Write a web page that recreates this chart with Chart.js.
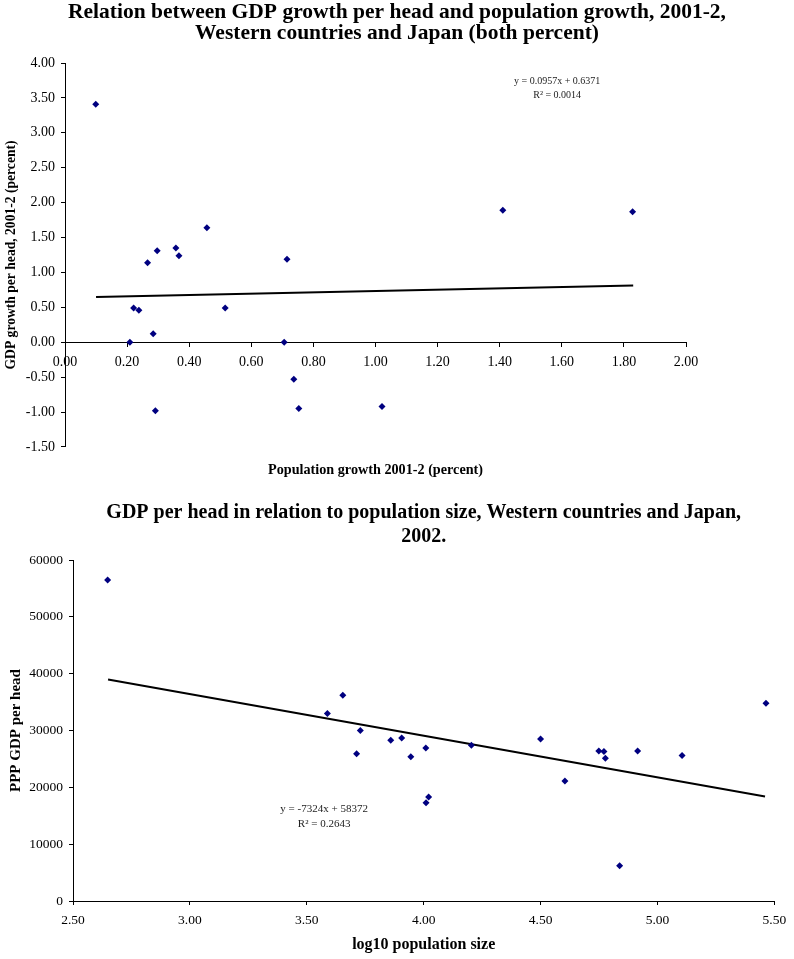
<!DOCTYPE html>
<html>
<head>
<meta charset="utf-8">
<script src="https://cdn.jsdelivr.net/npm/chart.js@4.4.1/dist/chart.umd.min.js"></script>
<style>
  html, body { margin: 0; padding: 0; background: #fff; }
  body { width: 794px; height: 959px; position: relative; overflow: hidden; }
  canvas { position: absolute; left: 0; }
  #growthChart { top: 0; }
  #sizeChart { top: 480px; }
</style>
</head>
<body>
<canvas id="growthChart" width="794" height="480"></canvas>
<canvas id="sizeChart" width="794" height="479"></canvas>
<script>
// chart 1: population growth vs GDP growth per head, 2001-2 (percent)
const popGrowth = [0.099, 0.209, 0.221, 0.238, 0.266, 0.284, 0.291, 0.297, 0.357, 0.367,
  0.457, 0.516, 0.706, 0.715, 0.737, 0.753, 1.021, 1.410, 1.828];
const gdpGrowth = [3.41, 0.00, 0.49, 0.46, 1.14, 0.12, -0.98, 1.31, 1.35, 1.24,
  1.64, 0.49, 0.00, 1.19, -0.53, -0.95, -0.92, 1.89, 1.87];
const growthTrendX = [0.10, 1.83];
const growthTrendY = [0.647, 0.812];
const growthTicksX = [0, 0.2, 0.4, 0.6, 0.8, 1.0, 1.2, 1.4, 1.6, 1.8, 2.0];
const growthTicksY = [-1.5, -1.0, -0.5, 0, 0.5, 1.0, 1.5, 2.0, 2.5, 3.0, 3.5, 4.0];
const growthEquation = ["y = 0.0957x + 0.6371", "R² = 0.0014"];

// chart 2: log10 population size vs PPP GDP per head, 2002
const logPop = [2.648, 3.588, 3.654, 3.729, 3.713, 3.859, 3.906, 3.945, 4.009, 4.010, 4.021,
  4.204, 4.500, 4.604, 4.749, 4.771, 4.777, 4.838, 4.915, 5.105, 5.464];
const gdpHead = [56500, 33000, 36200, 30000, 25900, 28300, 28700, 25400, 26900, 17300, 18300,
  27400, 28500, 21100, 26400, 26300, 25100, 6200, 26400, 25600, 34800];
const sizeTrendX = [2.65, 5.46];
const sizeTrendY = [38963, 18383];
const sizeTicksX = [2.5, 3.0, 3.5, 4.0, 4.5, 5.0, 5.5];
const sizeTicksY = [0, 10000, 20000, 30000, 40000, 50000, 60000];
const sizeEquation = ["y = -7324x + 58372", "R² = 0.2643"];

const SERIF = "'Liberation Serif', 'Times New Roman', serif";
const NAVY = "#000080";

Chart.defaults.font.family = SERIF;
Chart.defaults.color = "#000";

// draws the trendline equation text at a data position
const trendLabelPlugin = {
  id: "trendLabel",
  afterDatasetsDraw(chart, args, opts) {
    if (!opts.lines) return;
    const { ctx, scales } = chart;
    const x = scales.x.getPixelForValue(opts.at.x);
    const y = scales.y.getPixelForValue(opts.at.y);
    ctx.save();
    ctx.fillStyle = "#222";
    ctx.font = `${opts.size}px ${SERIF}`;
    ctx.textAlign = "center";
    ctx.textBaseline = "middle";
    opts.lines.forEach((line, i) => ctx.fillText(line, x, y + i * opts.gap));
    ctx.restore();
  },
};

const pointsSet = (xs, ys) => ({
  data: xs.map((x, i) => ({ x, y: ys[i] })),
  pointStyle: "rectRot",
  pointRadius: 3.5,
  backgroundColor: NAVY,
  borderColor: NAVY,
  borderWidth: 0,
});

const trendSet = (xs, ys) => ({
  data: xs.map((x, i) => ({ x, y: ys[i] })),
  showLine: true,
  borderColor: "#000",
  borderWidth: 2,
  pointRadius: 0,
});

const axis = (tickValues, fmt, fontSize, padding) => ({
  type: "linear",
  min: tickValues[0],
  max: tickValues[tickValues.length - 1],
  afterBuildTicks: (scale) => {
    scale.ticks = tickValues.map((v) => ({ value: v }));
  },
  ticks: {
    font: { size: fontSize },
    padding: padding,
    autoSkip: false,
    maxRotation: 0,
    callback: fmt,
  },
  grid: { drawOnChartArea: false, drawTicks: true, tickLength: 4, color: "#000" },
  border: { display: true, color: "#000", width: 1 },
});

const fixed2 = (v) => Number(v).toFixed(2);

const growthX = axis(growthTicksX, fixed2, 14, 7.5);
growthX.position = { y: 0 };

const growthY = axis(growthTicksY, fixed2, 14, 6);
growthY.afterFit = (scale) => { scale.width = 65; };
growthY.title = {
  display: true,
  text: "GDP growth per head, 2001-2 (percent)",
  font: { size: 13.6, weight: "bold" },
  padding: { top: 3, bottom: 0 },
};

// empty space on the right of the plot, so the title stays centred on the page
const growthSpacer = {
  type: "linear",
  position: "right",
  afterFit: (scale) => { scale.width = 108; },
  ticks: { display: false },
  grid: { display: false },
  border: { display: false },
};

new Chart(document.getElementById("growthChart"), {
  type: "scatter",
  data: {
    datasets: [pointsSet(popGrowth, gdpGrowth), trendSet(growthTrendX, growthTrendY)],
  },
  options: {
    responsive: false,
    animation: false,
    layout: { padding: 0 },
    plugins: {
      legend: { display: false },
      tooltip: { enabled: false },
      title: {
        display: true,
        text: [
          "Relation between GDP growth per head and population growth, 2001-2,",
          "Western countries and Japan (both percent)",
        ],
        color: "#000",
        font: { size: 21.5, weight: "bold", lineHeight: 21 / 21.5 },
        padding: { top: 2, bottom: 19 },
      },
      subtitle: {
        display: true,
        position: "bottom",
        fullSize: false,
        text: "Population growth 2001-2 (percent)",
        color: "#000",
        font: { size: 14.2, weight: "bold", lineHeight: 1.2 },
        padding: { top: 14.5, bottom: 1.5 },
      },
      trendLabel: { lines: growthEquation, at: { x: 1.585, y: 3.74 }, size: 10, gap: 14 },
    },
    scales: { x: growthX, y: growthY, spacer: growthSpacer },
  },
  plugins: [trendLabelPlugin],
});

const sizeX = axis(sizeTicksX, fixed2, 13.5, 7.8);
sizeX.position = "bottom";
sizeX.afterFit = (scale) => { scale.height = 58; };
sizeX.title = {
  display: true,
  text: "log10 population size",
  font: { size: 16, weight: "bold", lineHeight: 1.2 },
  padding: { top: 0, bottom: 4.4 },
};

const sizeY = axis(sizeTicksY, (v) => String(v), 13.5, 6);
sizeY.afterFit = (scale) => { scale.width = 73; };
sizeY.title = {
  display: true,
  text: "PPP GDP per head",
  font: { size: 15, weight: "bold", lineHeight: 1.2 },
  padding: { top: 7, bottom: 0 },
};

new Chart(document.getElementById("sizeChart"), {
  type: "scatter",
  data: {
    datasets: [pointsSet(logPop, gdpHead), trendSet(sizeTrendX, sizeTrendY)],
  },
  options: {
    responsive: false,
    animation: false,
    layout: { padding: { left: 0, right: 14, top: 0, bottom: 0 } },
    plugins: {
      legend: { display: false },
      tooltip: { enabled: false },
      title: {
        display: true,
        fullSize: false,
        text: [
          "GDP per head in relation to population size, Western countries and Japan,",
          "2002.",
        ],
        color: "#000",
        font: { size: 20, weight: "bold", lineHeight: 1.2 },
        padding: { top: 21, bottom: 11 },
      },
      trendLabel: { lines: sizeEquation, at: { x: 3.574, y: 16190 }, size: 11, gap: 15 },
    },
    scales: { x: sizeX, y: sizeY },
  },
  plugins: [trendLabelPlugin],
});
</script>
</body>
</html>
